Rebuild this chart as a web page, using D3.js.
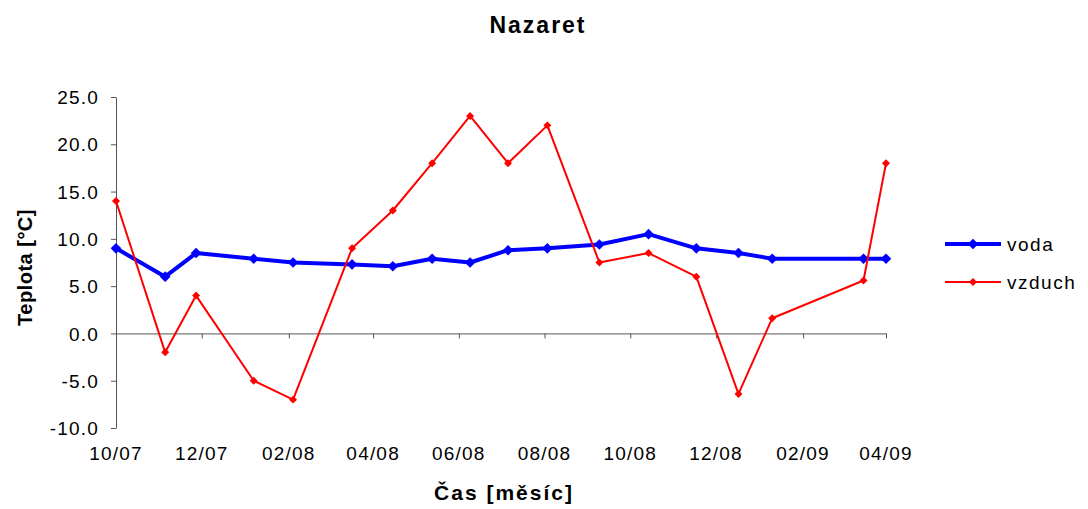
<!DOCTYPE html>
<html>
<head>
<meta charset="utf-8">
<script src="https://cdn.jsdelivr.net/npm/d3@7"></script>
<style>
  html, body { margin: 0; padding: 0; background: #fff; }
  svg { display: block; font-family: Arial, "Liberation Sans", sans-serif; }
  .axis path, .axis line { stroke: #555; }
  .axis text, .tick-label { font-size: 19px; fill: #000; letter-spacing: 1.2px; }
</style>
</head>
<body>
<div id="chart"></div>
<script>
// Nazaret — water vs air temperature, Oct 2007 – Apr 2009
const dates = [
  "2007-10-01", "2007-11-05", "2007-11-27", "2008-01-07", "2008-02-04", "2008-03-17",
  "2008-04-15", "2008-05-13", "2008-06-09", "2008-07-06", "2008-08-03", "2008-09-09",
  "2008-10-14", "2008-11-17", "2008-12-17", "2009-01-10", "2009-03-16", "2009-04-01"
];
const voda = [9.0, 6.0, 8.5, 7.9, 7.5, 7.3, 7.1, 7.9, 7.5, 8.8, 9.0, 9.4, 10.5, 9.0, 8.5, 7.9, 7.9, 7.9];
const vzduch = [14, -2, 4, -5, -7, 9, 13, 18, 23, 18, 22, 7.5, 8.5, 6, -6.4, 1.6, 5.6, 18];
const yTicks = [-10, -5, 0, 5, 10, 15, 20, 25];
const xStart = "2007-10-01", xEnd = "2009-04-01";

const series = [
  { name: "voda", values: voda, color: "#0000ff", width: 4, marker: 12 },
  { name: "vzduch", values: vzduch, color: "#ff0000", width: 2, marker: 9 }
];

const W = 1088, H = 509;
const margin = { top: 97, right: 202, bottom: 81, left: 116 };
const width = W - margin.left - margin.right;
const height = H - margin.top - margin.bottom;

const parse = d3.timeParse("%Y-%m-%d");

const svg = d3.select("#chart").append("svg")
  .attr("width", W).attr("height", H);

const g = svg.append("g")
  .attr("transform", `translate(${margin.left},${margin.top})`);

const x = d3.scaleTime()
  .domain([parse(xStart), parse(xEnd)])
  .range([0, width]);

const y = d3.scaleLinear()
  .domain([-10, 25])
  .range([height, 0]);

// y axis
g.append("g")
  .attr("class", "axis")
  .call(d3.axisLeft(y).tickValues(yTicks).tickFormat(d => d.toFixed(1))
    .tickSize(5).tickPadding(12).tickSizeOuter(0))
  .call(a => a.selectAll("text").attr("dy", "0.35em"));

// x axis line at zero, labels along the bottom (every 2 months from start)
const xTicks = d3.timeMonth.range(parse(xStart), d3.timeDay.offset(parse(xEnd), 1), 2);
g.append("g")
  .attr("class", "axis")
  .attr("transform", `translate(0,${y(0)})`)
  .call(d3.axisBottom(x).tickValues(xTicks).tickSize(5).tickSizeOuter(0).tickFormat(""));

g.append("g")
  .selectAll("text")
  .data(xTicks)
  .join("text")
  .attr("class", "tick-label")
  .attr("x", d => x(d))
  .attr("y", height + 32)
  .attr("text-anchor", "middle")
  .text(d3.timeFormat("%m/%y"));

const diamond = d3.symbol().type(d3.symbolDiamond2);

series.forEach(s => {
  const pts = s.values.map((v, i) => ({ date: parse(dates[i]), v }));
  g.append("path")
    .datum(pts)
    .attr("fill", "none")
    .attr("stroke", s.color)
    .attr("stroke-width", s.width)
    .attr("stroke-linejoin", "round")
    .attr("d", d3.line().x(d => x(d.date)).y(d => y(d.v)));
  g.selectAll(null)
    .data(pts)
    .join("path")
    .attr("transform", d => `translate(${x(d.date)},${y(d.v)})`)
    .attr("d", diamond.size(s.marker * s.marker / 2)())
    .attr("fill", s.color);
});

// title
svg.append("text")
  .attr("x", 538).attr("y", 33)
  .attr("text-anchor", "middle")
  .style("font-size", "23px").style("font-weight", "bold")
  .style("letter-spacing", "2px")
  .text("Nazaret");

// axis titles
svg.append("text")
  .attr("x", 504).attr("y", 500)
  .attr("text-anchor", "middle")
  .style("font-size", "21px").style("font-weight", "bold")
  .style("letter-spacing", "2px")
  .text("Čas [měsíc]");

svg.append("text")
  .attr("transform", `translate(32,${margin.top + height / 2 + 5}) rotate(-90)`)
  .attr("text-anchor", "middle")
  .style("font-size", "20px").style("font-weight", "bold")
  .style("letter-spacing", "0.5px")
  .text("Teplota [°C]");

// legend
const legend = svg.append("g").attr("transform", "translate(945,244)");
series.forEach((s, i) => {
  const row = legend.append("g").attr("transform", `translate(0,${i * 38})`);
  row.append("line")
    .attr("x1", 0).attr("x2", 56)
    .attr("stroke", s.color).attr("stroke-width", s.width);
  row.append("path")
    .attr("transform", "translate(28,0)")
    .attr("d", diamond.size(s.marker * s.marker / 2)())
    .attr("fill", s.color);
  row.append("text")
    .attr("x", 62).attr("dy", "0.35em")
    .style("font-size", "19px")
    .style("letter-spacing", "1.5px")
    .text(s.name);
});
</script>
</body>
</html>
